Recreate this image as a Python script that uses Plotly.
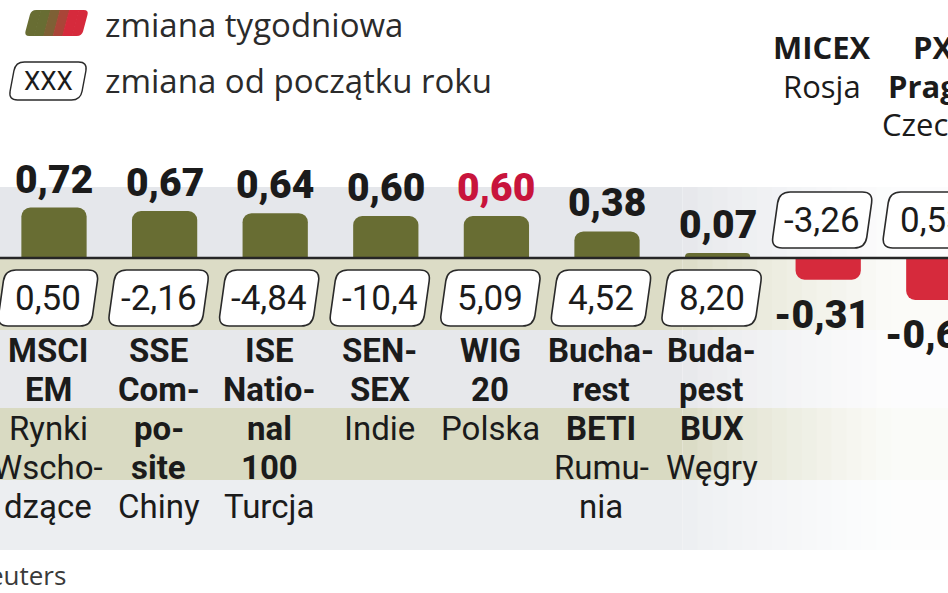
import plotly.graph_objects as go

# data (weekly change %, change since start of year %)
categories = ["MSCI EM", "SSE Composite", "ISE National 100", "SENSEX", "WIG 20",
              "Bucharest BETI", "Budapest BUX", "MICEX", "PX"]
weekly_change = [0.72, 0.67, 0.64, 0.60, 0.60, 0.38, 0.07, -0.31, -0.60]
ytd_change = [0.50, -2.16, -4.84, -10.4, 5.09, 4.52, 8.20, -3.26, 0.53]
index_lines = [["MSCI", "EM"], ["SSE", "Com-", "po-", "site"], ["ISE", "Natio-", "nal", "100"],
               ["SEN-", "SEX"], ["WIG", "20"], ["Bucha-", "rest", "BETI"],
               ["Buda-", "pest", "BUX"], ["MICEX"], ["PX", "Praga"]]
country_lines = [["Rynki", "Wscho-", "dzące"], ["Chiny"], ["Turcja"], ["Indie"], ["Polska"],
                 ["Rumu-", "nia"], ["Węgry"], ["Rosja"], ["Czechy"]]
highlight = "WIG 20"

W, H = 948, 593
BASE_PX = 258          # baseline position from top
PX_PER_UNIT = 70       # vertical scale
X0_PX, STEP_PX = 48, 110.6
BAR_W = 0.59
BAR_SHIFT_PX = 6       # bars sit a little right of the boxes in the original

COND = "Roboto, Liberation Sans, sans-serif"
HUMAN = "Open Sans, Noto Sans, DejaVu Sans, sans-serif"
GREEN = "#686d33"
RED = "#d62a3c"
INK = "#1b1b1b"
HILITE = "#c8143c"


def fmt(v):
    s = f"{v:.2f}" if abs(v) < 10 else f"{v:.1f}"
    return s.replace(".", ",")


def mix(c1, c2, t):
    a = [int(c1[i:i + 2], 16) for i in (1, 3, 5)]
    b = [int(c2[i:i + 2], 16) for i in (1, 3, 5)]
    return "#" + "".join(f"{round(p + (q - p) * t):02x}" for p, q in zip(a, b))


def slanted_box(cx, cy, w, h, slant, radii):
    """rounded parallelogram path in pixels (y up)"""
    top, bot = cy + h / 2, cy - h / 2
    pts = [(cx - w / 2 + slant / 2, top), (cx + w / 2 + slant / 2, top),
           (cx + w / 2 - slant / 2, bot), (cx - w / 2 - slant / 2, bot)]
    segs = []
    for k, (c, r) in enumerate(zip(pts, radii)):
        p, n = pts[k - 1], pts[(k + 1) % 4]

        def toward(q, r=r, c=c):
            dx, dy = q[0] - c[0], q[1] - c[1]
            d = (dx * dx + dy * dy) ** 0.5
            return (c[0] + dx / d * r, c[1] + dy / d * r)

        a, b = toward(p), toward(n)
        segs.append(("M" if k == 0 else "L") + f"{a[0]:.1f},{a[1]:.1f}")
        segs.append(f"Q{c[0]:.1f},{c[1]:.1f} {b[0]:.1f},{b[1]:.1f}")
    return " ".join(segs) + " Z"


x = list(range(len(categories)))
colors = [GREEN if v >= 0 else RED for v in weekly_change]

fig = go.Figure(go.Bar(
    x=x, y=weekly_change, width=BAR_W, offset=-BAR_W / 2 + BAR_SHIFT_PX / STEP_PX,
    marker=dict(color=colors, line=dict(width=0), cornerradius=9),
    hoverinfo="skip",
))

shapes = []
annotations = []

# background bands, fading to white on the right
bands = [(71, 0, "#e5e7eb"), (0, -72, "#dcdcc6"), (-72, -150, "#e7e8eb"),
         (-150, -222, "#d9dac2"), (-222, -292, "#eceef1")]
n_fade = 14
fade = [(0.0, 0.72, 0.0)]
for k in range(n_fade):
    fx0 = 0.72 + 0.22 * k / n_fade
    fade.append((fx0, fx0 + 0.22 / n_fade + 0.002, 0.88 * ((k + 0.5) / n_fade) ** 0.8))
fade.append((0.94, 1.0, 0.88))
for y0, y1, col in bands:
    for fx0, fx1, t in fade:
        shapes.append(dict(type="rect", xref="paper", x0=fx0, x1=fx1,
                           yref="y", ysizemode="pixel", yanchor=0, y0=y0, y1=y1,
                           fillcolor=mix(col, "#ffffff", t), line=dict(width=0),
                           layer="below"))

# baseline
shapes.append(dict(type="line", xref="paper", x0=0, x1=1, yref="y", y0=0, y1=0,
                   line=dict(color="#262626", width=2.5), layer="above"))

for i, (name, wk, ytd) in enumerate(zip(categories, weekly_change, ytd_change)):
    up = wk >= 0
    # weekly value
    annotations.append(dict(
        x=i, y=wk, xref="x", yref="y", text=fmt(wk), showarrow=False,
        xshift=BAR_SHIFT_PX if up else 0,
        yanchor="bottom" if up else "top", yshift=3 if up else -10,
        font=dict(family=COND, size=39, weight=900,
                  color=HILITE if name == highlight else INK)))
    # year-to-date box
    cy = -40 if up else 38
    shapes.append(dict(type="path", xref="x", xsizemode="pixel", xanchor=i,
                       yref="y", ysizemode="pixel", yanchor=0,
                       path=slanted_box(0, cy, 94, 56, 8, [11, 11, 11, 11]),
                       fillcolor="#ffffff", line=dict(color="#2a2a2a", width=1.6),
                       layer="above"))
    annotations.append(dict(
        x=i, y=0, xref="x", yref="y", text=fmt(ytd), showarrow=False,
        yanchor="middle", yshift=cy,
        font=dict(family=COND, size=35, color=INK)))
    # category labels
    lines = [(t, "bold") for t in index_lines[i]] + [(t, "normal") for t in country_lines[i]]
    for k, (t, wt) in enumerate(lines):
        if up:
            annotations.append(dict(
                x=i, y=0, xref="x", yref="y", text=t, showarrow=False,
                yanchor="middle", yshift=-(92 + 39 * k),
                font=dict(family=COND, size=33, weight=wt, color=INK)))
        else:
            annotations.append(dict(
                x=i, y=0, xref="x", yref="y", text=t, showarrow=False,
                yanchor="middle", yshift=211 - 38.5 * k,
                font=dict(family=HUMAN, size=31, weight=wt, color=INK)))

# legend: gradient swatch
n_strips = 6
sw_x0, sw_w = 28, 57
for s in range(n_strips):
    t = min(max((s - 1.5) / 2.5, 0), 1)
    sw = sw_w / n_strips
    cx = sw_x0 + sw * (s + 0.5)
    r = [0, 0, 0, 0]
    if s == 0:
        r = [5, 0, 0, 5]
    elif s == n_strips - 1:
        r = [0, 5, 5, 0]
    shapes.append(dict(type="path", xref="paper", xsizemode="pixel", xanchor=0,
                       yref="paper", ysizemode="pixel", yanchor=1,
                       path=slanted_box(cx, -23, sw + 0.6, 26, 7, r),
                       fillcolor=mix(GREEN, RED, t), line=dict(width=0)))
# legend: box sample
shapes.append(dict(type="path", xref="paper", xsizemode="pixel", xanchor=0,
                   yref="paper", ysizemode="pixel", yanchor=1,
                   path=slanted_box(48, -81, 72, 38, 7, [9, 9, 9, 9]),
                   fillcolor="#ffffff", line=dict(color="#2a2a2a", width=1.4)))
annotations.append(dict(x=0, y=1, xref="paper", yref="paper", xshift=48, yshift=-81,
                        text="XXX", showarrow=False, xanchor="center", yanchor="middle",
                        font=dict(family=COND, size=26, color=INK)))
for txt, ys in [("zmiana tygodniowa", -24), ("zmiana od początku roku", -80)]:
    annotations.append(dict(x=0, y=1, xref="paper", yref="paper", xshift=103, yshift=ys,
                            text=txt, showarrow=False, xanchor="left", yanchor="middle",
                            font=dict(family=HUMAN, size=33, color="#2b2b2b")))

# source (cut at the left edge like the reference)
annotations.append(dict(x=0, y=0, xref="paper", yref="paper", xshift=68, yshift=18,
                        text="Źródło: Reuters", showarrow=False, xanchor="right",
                        yanchor="middle", font=dict(family=HUMAN, size=26, color="#3a3a3a")))

fig.update_layout(
    width=W, height=H,
    margin=dict(l=0, r=0, t=0, b=0),
    paper_bgcolor="#ffffff", plot_bgcolor="#ffffff",
    showlegend=False,
    xaxis=dict(range=[-X0_PX / STEP_PX, (W - X0_PX) / STEP_PX], visible=False, fixedrange=True),
    yaxis=dict(range=[-(H - BASE_PX) / PX_PER_UNIT, BASE_PX / PX_PER_UNIT], visible=False,
               fixedrange=True),
    shapes=shapes,
    annotations=annotations,
)

fig.write_html("out.html", config={"displayModeBar": False},
               post_script="document.body.style.margin='0px';"
                           "document.body.style.overflow='hidden';")
